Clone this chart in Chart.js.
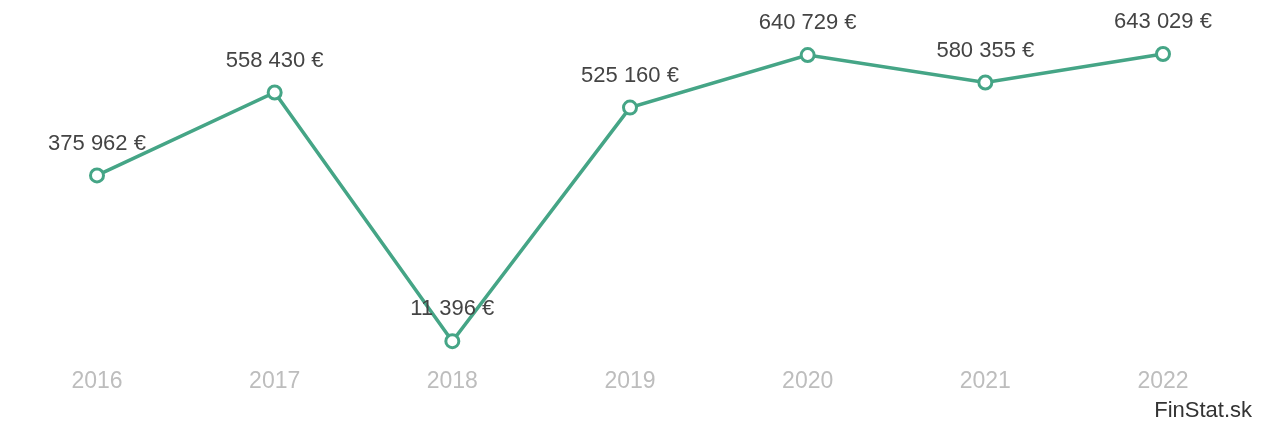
<!DOCTYPE html>
<html>
<head>
<meta charset="utf-8">
<script src="https://cdn.jsdelivr.net/npm/chart.js@4.4.1/dist/chart.umd.min.js"></script>
<style>
  html, body { margin:0; padding:0; background:#fff; }
  #wrap { position:relative; width:1264px; height:425px; }
  #c { display:block; }
  #brand { position:absolute; right:12px; bottom:2px; font:22px "Liberation Sans", Arial, sans-serif; color:#333; }
</style>
</head>
<body>
<div id="wrap">
  <canvas id="c" width="1264" height="425"></canvas>
  <div id="brand">FinStat.sk</div>
</div>
<script>
const years  = ['2016','2017','2018','2019','2020','2021','2022'];
const values = [375962, 558430, 11396, 525160, 640729, 580355, 643029];

const LINE = '#45a586';
const fmtEur = v => String(v).replace(/\B(?=(\d{3})+(?!\d))/g, ' ') + ' €';

// value labels above each point
const valueLabels = {
  id: 'valueLabels',
  afterDatasetsDraw(chart) {
    const ctx = chart.ctx;
    const meta = chart.getDatasetMeta(0);
    ctx.save();
    ctx.font = '22px "Liberation Sans", Arial, sans-serif';
    ctx.fillStyle = '#444';
    ctx.textAlign = 'center';
    ctx.textBaseline = 'middle';
    meta.data.forEach((pt, i) => {
      ctx.fillText(fmtEur(values[i]), pt.x, pt.y - 32);
    });
    ctx.restore();
  }
};

new Chart(document.getElementById('c'), {
  type: 'line',
  data: {
    labels: years,
    datasets: [{
      data: values,
      borderColor: LINE, borderWidth: 3.5,
      pointRadius: 6.5, pointBorderWidth: 3,
      pointBackgroundColor: '#fff', pointBorderColor: LINE,
      tension: 0, fill: false, clip: false
    }]
  },
  options: {
    responsive: false, animation: false,
    layout: { padding: { left: 97, right: 101, top: 19, bottom: 17 } },
    plugins: { legend: { display: false }, tooltip: { enabled: false } },
    scales: {
      x: {
        offset: false,
        grid: { display: false }, border: { display: false },
        ticks: { color: '#bdbdbd', padding: 13, font: { size: 23, family: '"Liberation Sans", Arial, sans-serif' } }
      },
      y: {
        display: false, min: 0, max: 720000
      }
    }
  },
  plugins: [valueLabels]
});
</script>
</body>
</html>
